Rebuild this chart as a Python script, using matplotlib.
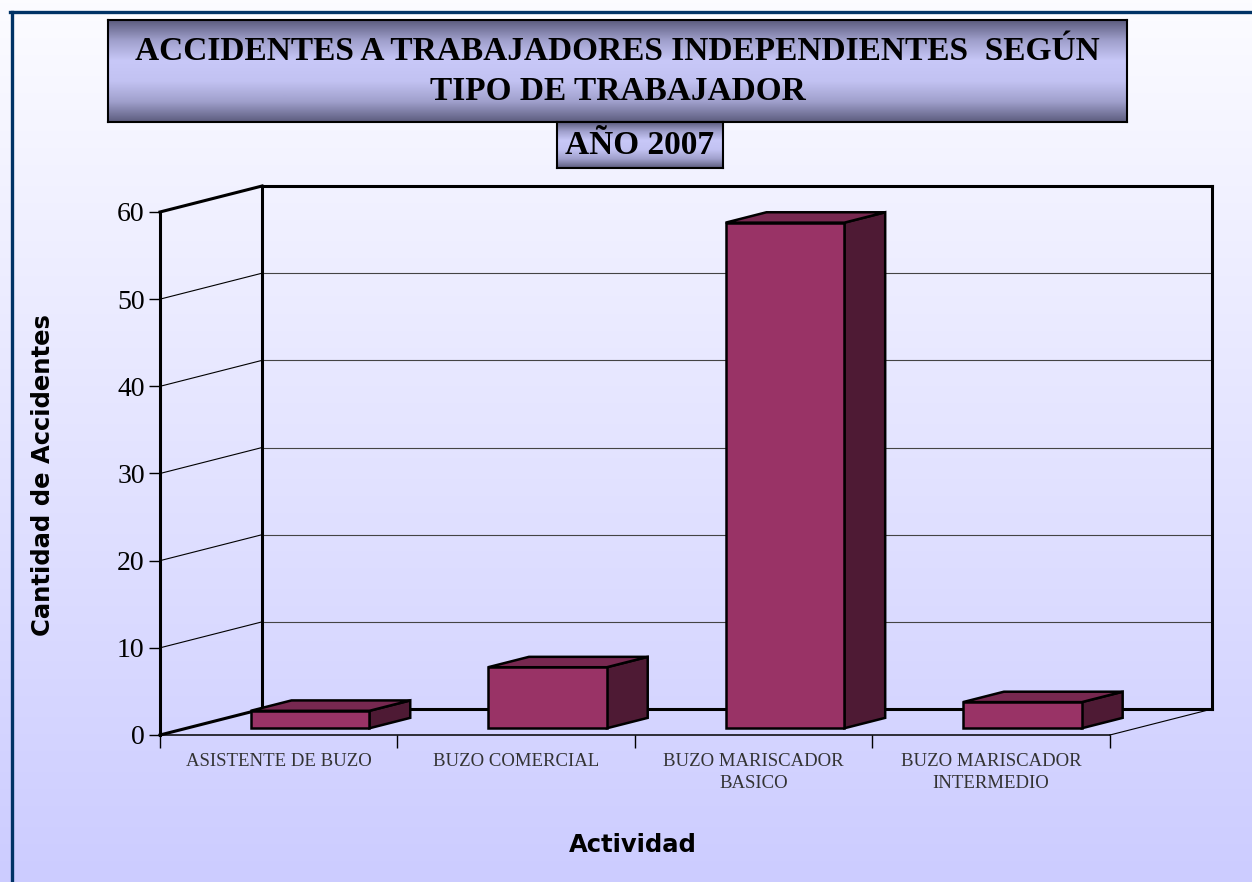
import numpy as np
import matplotlib.pyplot as plt
from matplotlib.colors import LinearSegmentedColormap
from matplotlib.patches import Polygon

# datos del grafico
categorias = ['ASISTENTE DE BUZO', 'BUZO COMERCIAL', 'BUZO MARISCADOR\nBASICO',
              'BUZO MARISCADOR\nINTERMEDIO']
accidentes = [2, 7, 58, 3]
ticks_y = [0, 10, 20, 30, 40, 50, 60]

titulo_1 = 'ACCIDENTES A TRABAJADORES INDEPENDIENTES  SEGÚN'
titulo_2 = 'TIPO DE TRABAJADOR'
subtitulo = 'AÑO 2007'
etiqueta_y = 'Cantidad de Accidentes'
etiqueta_x = 'Actividad'

# efecto 3d (profundidad en unidades de categoria / de valor)
DX = 0.43
DY = 2.98
Z0, Z1 = 0.26, 0.66   # profundidad de las barras
B0, B1 = 0.27, 0.77   # ancho de las barras dentro de la categoria

W, H = 1252, 882
SERIF = 'Liberation Serif'
SANS = 'DejaVu Sans'


def proj(x, v, z):
    return (x + z * DX, v + z * DY)


def px_ax(x0, y0, x1, y1):
    # rectangulo en pixeles, origen arriba a la izquierda
    return fig.add_axes([x0 / W, 1 - y1 / H, (x1 - x0) / W, (y1 - y0) / H])


fig = plt.figure(figsize=(W / 100, H / 100), dpi=100)

# fondo degradado
bg = fig.add_axes([0, 0, 1, 1], zorder=-10)
fondo = LinearSegmentedColormap.from_list('fondo', ['#FCFCFF', '#CCCCFF'])
bg.imshow(np.linspace(0, 1, 256).reshape(-1, 1), cmap=fondo, aspect='auto',
          extent=[0, 1, 0, 1])
bg.set_xlim(0, 1)
bg.set_ylim(0, 1)
bg.axis('off')
bg.plot([10 / W, 1], [1 - 12 / H, 1 - 12 / H], color='#003366', lw=2.4)
bg.plot([11.5 / W, 11.5 / W], [0, 1 - 12 / H], color='#003366', lw=2.4)

# cajas de titulo
caja = LinearSegmentedColormap.from_list(
    'caja', ['#5C5C7E', '#A0A0CC', '#C8C8F8', '#C2C2F2', '#A0A0CC', '#5C5C7E'])
for rect in [(108, 20, 1127, 122), (557, 122, 723, 168)]:
    tb = px_ax(*rect)
    tb.imshow(np.linspace(0, 1, 256).reshape(-1, 1), cmap=caja, aspect='auto',
              extent=[0, 1, 0, 1])
    tb.set_xticks([])
    tb.set_yticks([])
    for sp in tb.spines.values():
        sp.set_linewidth(1.5)
        sp.set_color('black')

fig.text(617.5 / W, 1 - 51 / H, titulo_1, ha='center', va='center',
         family=SERIF, weight='bold', fontsize=24)
fig.text(617.5 / W, 1 - 91 / H, titulo_2, ha='center', va='center',
         family=SERIF, weight='bold', fontsize=24)
fig.text(640 / W, 1 - 146 / H, subtitulo, ha='center', va='center',
         family=SERIF, weight='bold', fontsize=24)

# area del grafico
ax = px_ax(160, 186, 1212, 735)
ax.patch.set_alpha(0)
ax.set_xlim(0, 4 + DX)
ax.set_ylim(0, 60 + DY)
for sp in ax.spines.values():
    sp.set_visible(False)

thick = 2.2
thin = 0.8
# paredes
ax.plot([0, 0], [0, 60], color='black', lw=thick, clip_on=False)
for v in ticks_y:
    gruesa = v in (0, 60)
    ax.plot([0, DX], [v, v + DY], color='black', lw=thick if gruesa else thin,
            clip_on=False)
    ax.plot([DX, 4 + DX], [v + DY, v + DY], color='black' if gruesa else '#444444',
            lw=thick if gruesa else thin, clip_on=False)
ax.plot([DX, DX], [DY, 60 + DY], color='black', lw=thick, clip_on=False)
ax.plot([4 + DX, 4 + DX], [DY, 60 + DY], color='black', lw=thick, clip_on=False)
ax.plot([0, 4], [0, 0], color='black', lw=1.1, clip_on=False)
ax.plot([4, 4 + DX], [0, DY], color='black', lw=thin, clip_on=False)

# barras
for i, val in enumerate(accidentes):
    x0, x1 = i + B0, i + B1
    frente = [proj(x0, 0, Z0), proj(x1, 0, Z0), proj(x1, val, Z0), proj(x0, val, Z0)]
    techo = [proj(x0, val, Z0), proj(x1, val, Z0), proj(x1, val, Z1), proj(x0, val, Z1)]
    lado = [proj(x1, 0, Z0), proj(x1, 0, Z1), proj(x1, val, Z1), proj(x1, val, Z0)]
    for pts, col in [(lado, '#4E1A34'), (techo, '#772850'), (frente, '#993366')]:
        ax.add_patch(Polygon(pts, closed=True, facecolor=col, edgecolor='black',
                             lw=1.8, joinstyle='miter', zorder=5, clip_on=False))

# ejes
ax.set_yticks(ticks_y)
ax.set_yticklabels([str(t) for t in ticks_y], family=SERIF, fontsize=20)
ax.tick_params(axis='y', length=8, width=1, pad=3)
ax.set_xticks([0, 1, 2, 3, 4])
ax.set_xticklabels([''] * 5)
ax.set_xticks([i + 0.5 for i in range(4)], minor=True)
ax.set_xticklabels(categorias, minor=True, family=SERIF, fontsize=13.5,
                   color='#333333', linespacing=1.4)
ax.tick_params(axis='x', which='major', length=9, width=1)
ax.tick_params(axis='x', which='minor', length=0, pad=13)

fig.text(43 / W, 1 - 475 / H, etiqueta_y, rotation=90, ha='center', va='center',
         family=SANS, weight='bold', fontsize=17.5)
fig.text(633 / W, 1 - 845 / H, etiqueta_x, ha='center', va='center',
         family=SANS, weight='bold', fontsize=17.5)

plt.savefig('out.png', dpi=100)
